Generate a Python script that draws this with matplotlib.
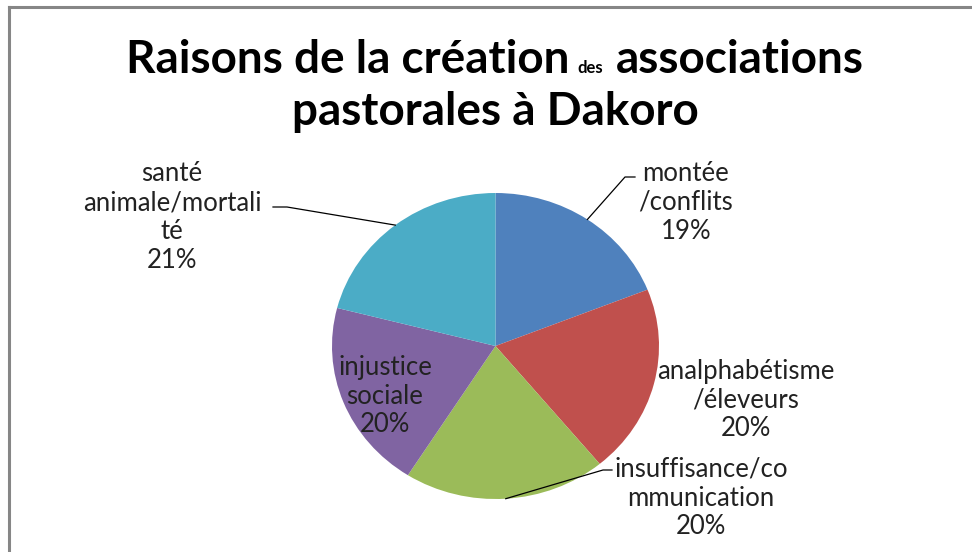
import matplotlib
matplotlib.use('Agg')
import numpy as np
import matplotlib.pyplot as plt
from matplotlib.lines import Line2D

W, H = 972, 552

# Données
labels = ['montée\n/conflits', 'analphabétisme\n/éleveurs', 'insuffisance/co\nmmunication',
          'injustice\nsociale', 'santé\nanimale/mortali\nté']
values = [19, 20, 20, 20, 21]
colors = ['#4F81BD', '#C0504D', '#9BBB59', '#8064A2', '#4BACC6']

plt.rcParams['font.family'] = ['Lato', 'DejaVu Sans']

fig = plt.figure(figsize=(W / 100, H / 100), dpi=100)

# centre et rayons du camembert en pixels
cx, cy, rx, ry = 495.5, 346, 163.5, 153
ax = fig.add_axes([(cx - rx) / W, 1 - (cy + ry) / H, 2 * rx / W, 2 * ry / H])
wedges, _ = ax.pie(values, colors=colors, startangle=90, counterclock=False,
                   radius=1, wedgeprops=dict(linewidth=0))
ax.set_aspect('auto')
ax.set_xlim(-1, 1)
ax.set_ylim(-1, 1)
ax.axis('off')


def px2d(x, y):
    return (x - cx) / rx, (cy - y) / ry


# étiquettes : position du texte (pixels) et coude de la ligne de rappel
label_pos = [(686, 202), (746, 400), (701, 498), (385, 396), (172, 217)]
elbows = [[(625, 177), (635, 177)], None, [(603, 470), (612, 470)], None,
          [(287, 207), (273, 207)]]

for w, lab, v, pos, elb in zip(wedges, labels, values, label_pos, elbows):
    txt = lab + '\n%d%%' % v
    fig.text(pos[0] / W, 1 - pos[1] / H, txt, ha='center', va='center',
             fontsize=18.5, color='#222222', linespacing=1.2)
    if elb is not None:
        ang = np.deg2rad((w.theta1 + w.theta2) / 2)
        xs = [np.cos(ang)] + [px2d(*p)[0] for p in elb]
        ys = [np.sin(ang)] + [px2d(*p)[1] for p in elb]
        ax.plot(xs, ys, color='black', lw=0.9, clip_on=False)

# titre
r = fig.canvas.get_renderer()
parts = [('Raisons de la création', 33), ('des', 12), ('associations', 33)]
gaps = [0, 7, 13]
base1 = 1 - 73 / H
texts = []
for s, fs in parts:
    t = fig.text(0, base1, s, fontsize=fs, fontweight='bold', va='baseline', ha='left')
    texts.append(t)
widths = [t.get_window_extent(r).width for t in texts]
x0 = 495 - (sum(widths) + sum(gaps)) / 2
for t, wd, g in zip(texts, widths, gaps):
    x0 += g
    t.set_x(x0 / W)
    x0 += wd
fig.text(495 / W, 1 - 125 / H, 'pastorales à Dakoro', fontsize=33, fontweight='bold',
         va='baseline', ha='center')

# cadre
fig.add_artist(Line2D([9 / W, 1], [1 - 7 / H, 1 - 7 / H], color='#868686', lw=2.2))
fig.add_artist(Line2D([9 / W, 9 / W], [0, 1 - 7 / H], color='#868686', lw=2.2))

fig.savefig('out.png', dpi=100)
